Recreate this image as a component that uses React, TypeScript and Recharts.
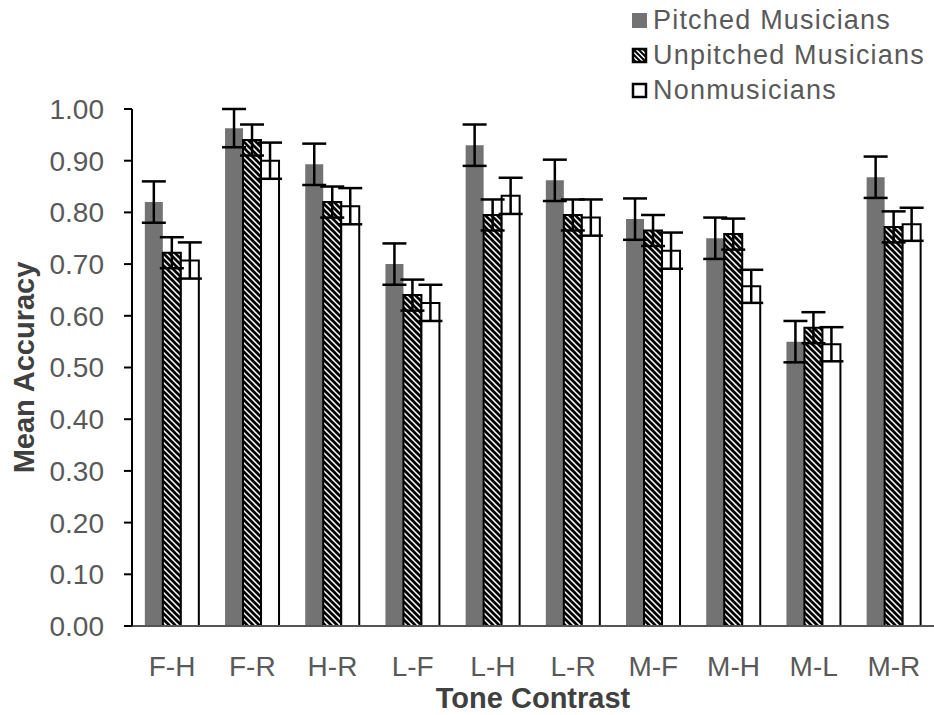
import React from 'react';
import { BarChart, Bar, XAxis, YAxis, ErrorBar, Legend } from 'recharts';

const categories = ['F-H', 'F-R', 'H-R', 'L-F', 'L-H', 'L-R', 'M-F', 'M-H', 'M-L', 'M-R'];
const pitched = [0.82, 0.963, 0.893, 0.70, 0.93, 0.862, 0.787, 0.75, 0.55, 0.868];
const pitchedErr = [0.04, 0.037, 0.04, 0.04, 0.04, 0.04, 0.04, 0.04, 0.04, 0.04];
const unpitched = [0.722, 0.94, 0.82, 0.64, 0.795, 0.795, 0.765, 0.758, 0.577, 0.772];
const unpitchedErr = [0.03, 0.03, 0.03, 0.03, 0.03, 0.03, 0.03, 0.03, 0.03, 0.03];
const nonmusicians = [0.707, 0.90, 0.812, 0.625, 0.832, 0.79, 0.726, 0.657, 0.545, 0.777];
const nonmusiciansErr = [0.035, 0.035, 0.035, 0.035, 0.035, 0.035, 0.035, 0.032, 0.033, 0.032];
const yTicks = [0, 0.1, 0.2, 0.3, 0.4, 0.5, 0.6, 0.7, 0.8, 0.9, 1.0];

const data = categories.map((c, i) => ({
  name: c,
  pitched: pitched[i],
  pitchedErr: pitchedErr[i],
  unpitched: unpitched[i],
  unpitchedErr: unpitchedErr[i],
  nonmusicians: nonmusicians[i],
  nonmusiciansErr: nonmusiciansErr[i],
}));

const FONT = '"Liberation Sans", Arial, sans-serif';
const GRAY = '#737373';
const TEXT = '#595959';

const legendItems = [
  { label: 'Pitched Musicians', kind: 'solid' },
  { label: 'Unpitched Musicians', kind: 'hatch' },
  { label: 'Nonmusicians', kind: 'empty' },
];

const LegendContent = () => (
  <div style={{ fontFamily: FONT, fontSize: 27, color: TEXT, letterSpacing: 1.2 }}>
    {legendItems.map((it) => (
      <div key={it.label} style={{ display: 'flex', alignItems: 'center', height: 35, whiteSpace: 'nowrap' }}>
        <svg width={17} height={17} style={{ marginRight: 5 }}>
          <defs>
            <pattern id="lhatch" patternUnits="userSpaceOnUse" width={5} height={5}>
              <rect width={5} height={5} fill="white" />
              <path d="M-1,-1 L6,6 M-1,4 L1,6 M4,-1 L6,1" stroke="black" strokeWidth={2} />
            </pattern>
          </defs>
          {it.kind === 'solid' && <rect x={1} y={1} width={15} height={15} fill={GRAY} />}
          {it.kind === 'hatch' && <rect x={2} y={2} width={13} height={13} fill="url(#lhatch)" stroke="black" strokeWidth={2.5} />}
          {it.kind === 'empty' && <rect x={2} y={2} width={13} height={13} fill="white" stroke="black" strokeWidth={2.5} />}
        </svg>
        <span>{it.label}</span>
      </div>
    ))}
  </div>
);

export default function App() {
  return (
    <div style={{ position: 'absolute', left: 0, top: 0, background: 'white' }}>
      <BarChart
        width={934}
        height={715}
        data={data}
        margin={{ top: 109, right: 0, bottom: 0, left: 0 }}
        barCategoryGap="16%"
        barGap={0}
      >
        <defs>
          <pattern id="hatch" patternUnits="userSpaceOnUse" width={6} height={6}>
            <rect width={6} height={6} fill="white" />
            <path d="M-1,-1 L7,7 M-1,5 L1,7 M5,-1 L7,1" stroke="black" strokeWidth={2.7} />
          </pattern>
        </defs>
        <XAxis
          dataKey="name"
          height={89}
          tickLine={false}
          axisLine={{ stroke: '#555', strokeWidth: 2 }}
          tick={{ fill: TEXT, fontSize: 28, fontFamily: FONT }}
          tickMargin={24}
          label={{ value: 'Tone Contrast', position: 'insideBottom', offset: 7, style: { fill: '#404040', fontSize: 29, fontWeight: 'bold', fontFamily: FONT } }}
        />
        <YAxis
          width={132}
          domain={[0, 1]}
          ticks={yTicks}
          interval={0}
          tickFormatter={(v: number) => v.toFixed(2)}
          axisLine={{ stroke: 'black', strokeWidth: 2 }}
          tickLine={{ stroke: 'black', strokeWidth: 2 }}
          tickSize={8}
          tickMargin={20}
          tick={{ fill: TEXT, fontSize: 28, fontFamily: FONT }}
          label={{ value: 'Mean Accuracy', angle: -90, position: 'insideLeft', offset: 24, style: { textAnchor: 'middle', fill: '#404040', fontSize: 29, fontWeight: 'bold', fontFamily: FONT } }}
        />
        <Legend
          layout="horizontal"
          verticalAlign="middle"
          align="center"
          content={<LegendContent />}
          wrapperStyle={{ top: 3, left: 631, width: 303, height: 110 }}
        />
        <Bar dataKey="pitched" fill={GRAY} isAnimationActive={false}>
          <ErrorBar dataKey="pitchedErr" width={12} stroke="black" strokeWidth={2.5} />
        </Bar>
        <Bar dataKey="unpitched" fill="url(#hatch)" stroke="black" strokeWidth={2} isAnimationActive={false}>
          <ErrorBar dataKey="unpitchedErr" width={12} stroke="black" strokeWidth={2.5} />
        </Bar>
        <Bar dataKey="nonmusicians" fill="white" stroke="black" strokeWidth={2} isAnimationActive={false}>
          <ErrorBar dataKey="nonmusiciansErr" width={12} stroke="black" strokeWidth={2.5} />
        </Bar>
      </BarChart>
    </div>
  );
}
